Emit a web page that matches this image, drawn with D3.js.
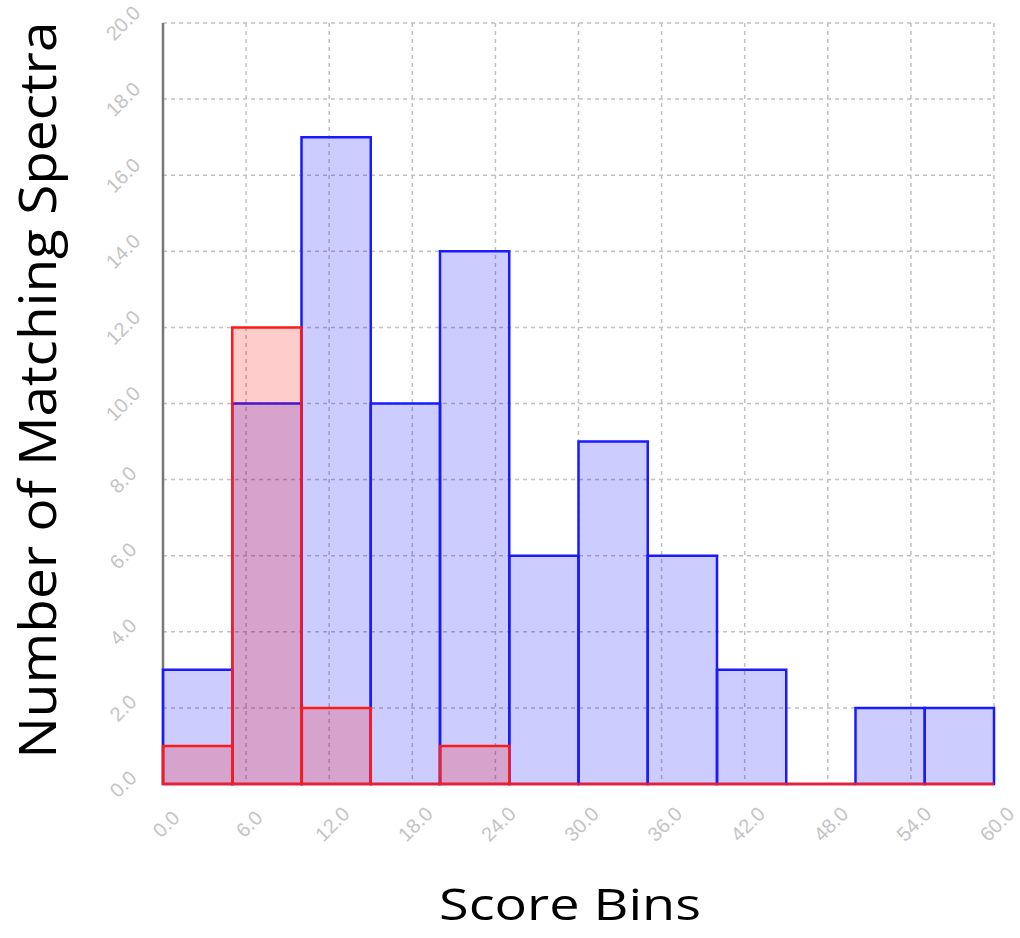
<!DOCTYPE html>
<html>
<head>
<meta charset="utf-8">
<script src="https://cdn.jsdelivr.net/npm/d3@7"></script>
<style>
  html, body { margin: 0; padding: 0; background: #fff; }
  svg { display: block; }
</style>
</head>
<body>
<svg id="chart" width="1020" height="938"></svg>
<script>
// Data
const binStarts = [0, 5, 10, 15, 20, 25, 30, 35, 40, 45, 50, 55];
const binWidth = 5;
const blueCounts = [3, 10, 17, 10, 14, 6, 9, 6, 3, 0, 2, 2];
const redCounts  = [1, 12, 2, 0, 1, 0, 0, 0, 0, 0, 0, 0];
const xTicks = [0, 6, 12, 18, 24, 30, 36, 42, 48, 54, 60];
const yTicks = [0, 2, 4, 6, 8, 10, 12, 14, 16, 18, 20];
const xTitle = "Score Bins";
const yTitle = "Number of Matching Spectra";

const svg = d3.select("#chart");
const pL = 163, pR = 994, pT = 23, pB = 784;

const x = d3.scaleLinear().domain([0, 60]).range([pL, pR]);
const y = d3.scaleLinear().domain([0, 20]).range([pB, pT]);

// Grid
const grid = svg.append("g");
grid.selectAll("line.h").data(yTicks.filter(d => d > 0)).enter().append("line")
  .attr("x1", pL).attr("x2", pR)
  .attr("y1", d => y(d)).attr("y2", d => y(d))
  .attr("stroke", "#c0c0c0").attr("stroke-width", 1.5).attr("stroke-dasharray", "4,4");
grid.selectAll("line.v").data(xTicks.filter(d => d > 0)).enter().append("line")
  .attr("x1", d => x(d)).attr("x2", d => x(d))
  .attr("y1", pT).attr("y2", pB)
  .attr("stroke", "#c0c0c0").attr("stroke-width", 1.5).attr("stroke-dasharray", "4,4");

// Left axis line
svg.append("line")
  .attr("x1", pL).attr("x2", pL).attr("y1", pT).attr("y2", pB)
  .attr("stroke", "#777").attr("stroke-width", 2.5);

function barPath(d, v) {
  const x0 = x(d), x1 = x(d + binWidth), y0 = y(0), y1 = y(v);
  return `M${x0},${y0}V${y1}H${x1}V${y0}Z`;
}

// Blue bars
svg.append("g").selectAll("path").data(binStarts).enter().append("path")
  .attr("d", (d, i) => barPath(d, blueCounts[i]))
  .attr("fill", "rgba(0,0,255,0.2)")
  .attr("stroke", "#1a1aff").attr("stroke-width", 2.5);

// Red bars
svg.append("g").selectAll("path").data(binStarts).enter().append("path")
  .attr("d", (d, i) => barPath(d, redCounts[i]))
  .attr("fill", "rgba(255,0,0,0.2)")
  .attr("stroke", "#ff1a1a").attr("stroke-width", 2.5);

// Y tick labels
svg.append("g").selectAll("text").data(yTicks).enter().append("text")
  .attr("transform", d => `translate(${pL - 40},${y(d)}) rotate(-45)`)
  .attr("text-anchor", "middle").attr("dominant-baseline", "central")
  .attr("font-family", "Liberation Sans, Arial, sans-serif")
  .attr("font-size", 20).attr("fill", "#c4c4c4")
  .text(d => d.toFixed(1));

// X tick labels
svg.append("g").selectAll("text").data(xTicks).enter().append("text")
  .attr("transform", d => `translate(${x(d) + 3},${pB + 40}) rotate(-45)`)
  .attr("text-anchor", "middle").attr("dominant-baseline", "central")
  .attr("font-family", "Liberation Sans, Arial, sans-serif")
  .attr("font-size", 20).attr("fill", "#c4c4c4")
  .text(d => d.toFixed(1));

// Axis titles
svg.append("text")
  .attr("x", 570).attr("y", 920)
  .attr("text-anchor", "middle")
  .attr("font-family", "Open Sans, sans-serif")
  .attr("font-size", 44).attr("fill", "#000")
  .attr("textLength", 262).attr("lengthAdjust", "spacingAndGlyphs")
  .text(xTitle);

svg.append("text")
  .attr("transform", "translate(56,390) rotate(-90)")
  .attr("text-anchor", "middle")
  .attr("font-family", "Open Sans, sans-serif")
  .attr("font-size", 52).attr("fill", "#000")
  .attr("textLength", 737).attr("lengthAdjust", "spacingAndGlyphs")
  .text(yTitle);
</script>
</body>
</html>
